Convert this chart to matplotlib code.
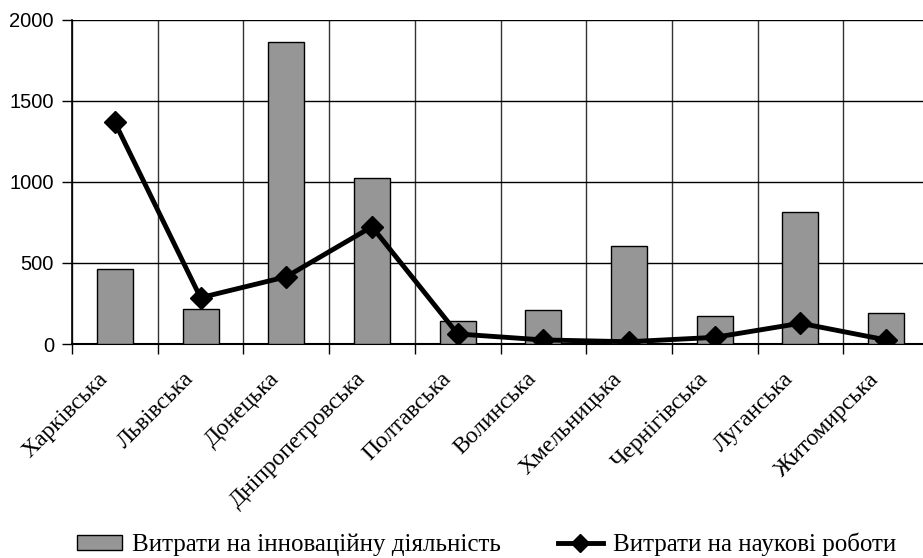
import matplotlib.pyplot as plt
import matplotlib.transforms as mtransforms
from matplotlib.lines import Line2D
from matplotlib.patches import Patch
import numpy as np

regions = ['Харківська', 'Львівська', 'Донецька', 'Дніпропетровська', 'Полтавська',
           'Волинська', 'Хмельницька', 'Чернігівська', 'Луганська', 'Житомирська']
innovation = [465, 218, 1864, 1027, 144, 210, 605, 173, 813, 189]
research = [1368, 286, 415, 724, 62, 25, 14, 41, 128, 25]
y_ticks = [0, 500, 1000, 1500, 2000]

W, H = 923, 558
fig = plt.figure(figsize=(W / 100, H / 100), dpi=100)
# axes run a little past the right edge, as in the original
ax = fig.add_axes([72 / W, (H - 344) / H, 857 / W, 324 / H])

x = np.arange(len(regions))
ax.bar(x, innovation, width=0.42, color='#969696', edgecolor='black', linewidth=1.0, zorder=3)
ax.plot(x, research, color='black', linewidth=3.5, marker='D', markersize=11, zorder=4)

ax.set_xlim(-0.5, len(regions) - 0.5)
ax.set_ylim(0, 2000)
ax.set_yticks(y_ticks)
ax.set_yticklabels([str(v) for v in y_ticks], fontsize=14.5, family='Liberation Sans')

# category labels at centres, tick marks at the boundaries
ax.set_xticks(x)
ax.set_xticklabels(regions, rotation=45, ha='right', va='center', rotation_mode='anchor',
                   fontsize=17, family='Liberation Serif')
ax.tick_params(axis='x', which='major', length=0, pad=23)
ax.set_xticks(np.arange(len(regions) + 1) - 0.5, minor=True)
ax.tick_params(axis='x', which='minor', length=7, width=1, color='black')
ax.tick_params(axis='y', length=7, width=1, pad=6)
shift = mtransforms.ScaledTranslation(-10 / 100, 0, fig.dpi_scale_trans)
for lbl in ax.get_xticklabels():
    lbl.set_transform(lbl.get_transform() + shift)

ax.grid(True, axis='y', which='major', color='black', linewidth=1.0, zorder=0)
ax.grid(True, axis='x', which='minor', color='#333333', linewidth=1.0, zorder=0)
ax.set_axisbelow(True)
for side in ['top', 'right']:
    ax.spines[side].set_visible(False)
ax.spines['left'].set_linewidth(1.2)
ax.spines['bottom'].set_linewidth(1.5)

handles = [Patch(facecolor='#969696', edgecolor='black', linewidth=1.0),
           Line2D([0], [0], color='black', linewidth=3.5, marker='D', markersize=9)]
fig.legend(handles, ['Витрати на інноваційну діяльність', 'Витрати на наукові роботи'],
           loc='center', bbox_to_anchor=(0.527, 0.024), ncol=2, frameon=False,
           prop={'family': 'Liberation Serif', 'size': 18},
           handlelength=1.8, handleheight=0.6, handletextpad=0.4, columnspacing=2.3,
           borderpad=0, borderaxespad=0)

plt.savefig('out.png', dpi=100)
